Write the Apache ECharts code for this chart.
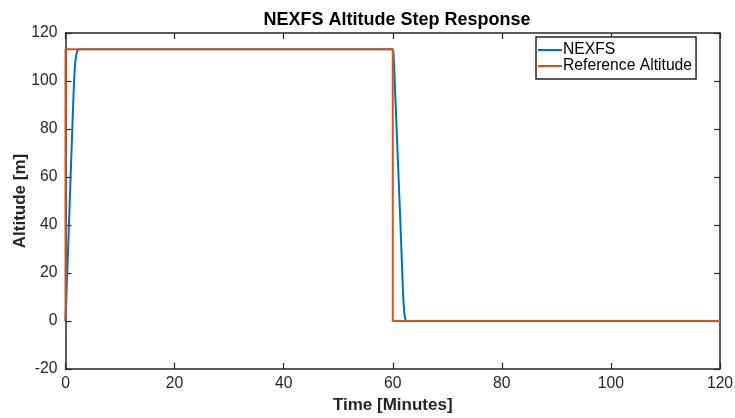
<!DOCTYPE html>
<html><head><meta charset="utf-8">
<script src="https://cdn.jsdelivr.net/npm/echarts@6/dist/echarts.min.js"></script>
<style>html,body{margin:0;padding:0;background:#fff}#c{width:735px;height:418px}</style>
</head><body><div id="c"></div>
<script>
const nexfsTime = [0, 0.3, 0.6, 0.9, 1.2, 1.5, 1.7, 1.9, 2.1, 2.3, 2.6, 3, 60, 60.2, 60.5, 60.8, 61.1, 61.4, 61.7, 61.9, 62.1, 62.3, 62.6, 120];
const nexfsAlt  = [0, 19, 38, 58, 77, 96, 105, 110, 112, 113, 113.2, 113.2, 113.2, 108, 92, 75, 58, 41, 23, 11, 4, 1, 0, 0];
const refTime = [0, 0, 60, 60, 120];
const refAlt  = [0, 113.2, 113.2, 0, 0];
const xTicks = [0, 20, 40, 60, 80, 100, 120];
const yTicks = [-20, 0, 20, 40, 60, 80, 100, 120];

const FONT = '"Liberation Sans", Arial, Helvetica, sans-serif';
const AX = '#262626';
const pair = (xs, ys) => xs.map((x, i) => [x, ys[i]]);

const chart = echarts.init(document.getElementById('c'), null, {renderer: 'canvas'});
const axisCommon = {
  axisLine: {show: true, onZero: false, lineStyle: {color: AX, width: 1.5}},
  axisTick: {show: true, inside: true, length: 6, lineStyle: {color: AX, width: 1.2}},
  splitLine: {show: false}
};
chart.setOption({
  animation: false,
  backgroundColor: '#fff',
  title: {text: 'NEXFS Altitude Step Response', left: 392, top: 6, textAlign: 'center',
    textStyle: {fontFamily: FONT, fontSize: 18, fontWeight: 'bold', color: '#000'}},
  grid: {left: 65.5, right: 15, top: 33, bottom: 49, containLabel: false, outerBoundsMode: 'none'},
  legend: {
    orient: 'vertical', left: 536, top: 37, padding: [5, 4, 5, 2],
    backgroundColor: '#fff', borderColor: AX, borderWidth: 1.5,
    itemWidth: 24, itemHeight: 2, itemGap: 0, icon: 'rect',
    textStyle: {fontFamily: FONT, fontSize: 15.7, lineHeight: 15, color: '#000', padding: [0, 0, 0, -4]},
    data: ['NEXFS', 'Reference Altitude']
  },
  xAxis: [
    Object.assign({type: 'value', min: 0, max: 120, interval: 20, position: 'bottom',
      name: 'Time [Minutes]', nameLocation: 'middle', nameGap: 27,
      nameTextStyle: {fontFamily: FONT, fontSize: 17, fontWeight: 'bold', color: '#262626'},
      axisLabel: {fontFamily: FONT, fontSize: 15.7, color: '#262626', margin: 7,
        formatter: v => xTicks.includes(v) ? String(v) : ''}}, axisCommon),
    Object.assign({type: 'value', min: 0, max: 120, interval: 20, position: 'top',
      axisLabel: {show: false}}, axisCommon)
  ],
  yAxis: [
    Object.assign({type: 'value', min: -20, max: 120, interval: 20, position: 'left',
      name: 'Altitude [m]', nameLocation: 'middle', nameGap: 37, nameRotate: 90, nameMoveOverlap: false,
      nameTextStyle: {fontFamily: FONT, fontSize: 17, fontWeight: 'bold', color: '#262626'},
      axisLabel: {fontFamily: FONT, fontSize: 15.7, color: '#262626', margin: 8,
        formatter: v => yTicks.includes(v) ? String(v) : ''}}, axisCommon),
    Object.assign({type: 'value', min: -20, max: 120, interval: 20, position: 'right',
      axisLabel: {show: false}}, axisCommon)
  ],
  series: [
    {name: 'NEXFS', type: 'line', data: pair(nexfsTime, nexfsAlt), showSymbol: false,
      smooth: 0.3, color: '#0072BD', lineStyle: {width: 2, color: '#0072BD'}, z: 2},
    {name: 'Reference Altitude', type: 'line', data: pair(refTime, refAlt), showSymbol: false,
      color: '#D95319', lineStyle: {width: 2, color: '#D95319'}, z: 3}
  ]
});
</script></body></html>
